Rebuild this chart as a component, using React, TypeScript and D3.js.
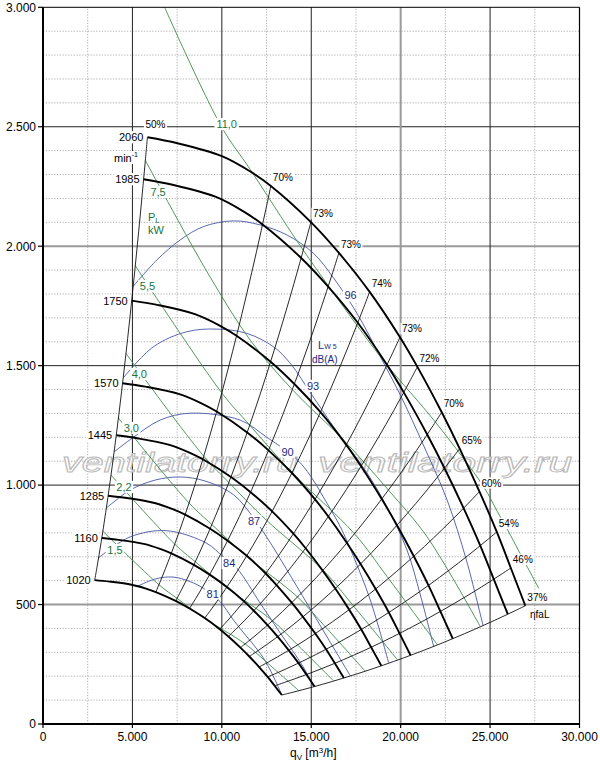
import * as d3 from 'd3'

// fan speeds, min-1
const speeds = [2060, 1985, 1750, 1570, 1445, 1285, 1160, 1020]

// top characteristic (2060 min-1), qV in m3/h and pressure in Pa
const curveQ = [5839, 7518, 10003, 11627, 12741, 14980, 16547, 18266, 19962, 20936, 22296, 23300, 24407, 25375, 26159, 26971]
const curveP = [2456, 2431, 2377, 2311, 2252, 2101, 1972, 1809, 1619, 1495, 1305, 1153, 973, 804, 653, 495]
const etaLabels = ['50%', '', '', '', '70%', '73%', '73%', '74%', '73%', '72%', '70%', '65%', '60%', '54%', '46%', '37%']

// shaft power lines PL, kW
const powerLevels = ['1,5', '2,2', '3,0', '4,0', '5,5', '7,5', '11,0']
const powerQ = [
  [3346, 6483, 7494, 9000, 11306, 12482, 14297],
  [3802, 7366, 8516, 10225, 12842, 14180, 16237],
  [4216, 8167, 9442, 11338, 14240, 15725, 18003],
  [4640, 8989, 10392, 12479, 15674, 17307, 19818],
  [5160, 9997, 11559, 13879, 17431, 19242, 22041],
  [5723, 7500, 9345, 11584, 14000, 16806, 19328, 21472, 24441],
  [6800, 9980, 11600, 14400, 17485, 19198, 21962, 24640, 25400, 26000, 26600, 27720],
]
const powerP = [
  [807, 583, 526, 444, 335, 260, 140],
  [1042, 753, 679, 573, 432, 335, 181],
  [1281, 925, 835, 705, 531, 412, 222],
  [1551, 1121, 1011, 854, 643, 499, 269],
  [1918, 1386, 1251, 1056, 795, 617, 333],
  [2359, 2115, 1871, 1607, 1395, 1189, 978, 784, 409],
  [3000, 2500, 2320, 2000, 1676, 1506, 1262, 993, 890, 810, 725, 568],
]
const powerLabelQ = [4026, 4530, 4938, 5385, 5844, 6433, 10272]
const powerLabelP = [728, 992, 1239, 1465, 1833, 2227, 2511]

// sound power lines LW5, dB(A)
const soundLevels = ['81', '84', '87', '90', '93', '96']
const soundQ = [
  [5244, 6268, 7276, 8228, 8972, 9906, 10651, 11401, 12145, 12705, 13353],
  [3084, 4869, 6923, 9162, 10074, 10841, 12145, 13265, 14552, 15128],
  [3543, 4869, 6269, 7668, 9067, 10651, 11800, 12700, 13600, 14800, 16000, 17182],
  [3974, 5054, 6548, 8227, 11026, 12520, 13672, 14300, 14944, 15879, 16623, 17367, 18302, 19326],
  [4477, 6173, 8043, 9722, 11401, 12889, 13824, 15039, 16248, 18117, 19237, 20356, 21101, 21846],
  [5021, 6364, 7668, 8972, 10651, 12145, 13640, 15128, 16248, 17558, 18862, 19981, 21268, 22595, 23675, 24610],
]
const soundP = [
  [575, 607, 615, 596, 568, 512, 435, 365, 296, 226, 122],
  [694, 783, 809, 756, 700, 652, 506, 381, 239, 156],
  [904, 979, 1021, 1034, 1017, 960, 860, 760, 650, 500, 350, 202],
  [1139, 1200, 1272, 1301, 1272, 1200, 1140, 1100, 1040, 924, 826, 700, 519, 257],
  [1448, 1579, 1642, 1653, 1635, 1579, 1510, 1377, 1244, 1051, 908, 728, 540, 324],
  [1830, 1942, 2026, 2082, 2106, 2089, 2047, 1970, 1867, 1719, 1537, 1377, 1168, 938, 686, 411],
]
const soundLabelQ = [9486, 10410, 11800, 13672, 15099, 17195]
const soundLabelP = [546, 674, 850, 1140, 1415, 1794]

const xTicks = [0, 5000, 10000, 15000, 20000, 25000, 30000]
const yTicks = [0, 500, 1000, 1500, 2000, 2500, 3000]

const font = '"Liberation Sans", Arial, Helvetica, sans-serif'
const GREEN_LINE = '#3d8a4c'
const GREEN_TEXT = '#16753a'
const BLUE_LINE = '#4656a6'
const BLUE_TEXT = '#1d2a80'

const x = d3.scaleLinear().domain([0, 30000]).range([43, 579.5])
const y = d3.scaleLinear().domain([0, 3000]).range([724, 7.3])

const fmt = (v: number) => d3.format(',')(v).replace(/,/g, '.')

const charW: Record<string, number> = { '%': 0.89, ',': 0.28, '.': 0.28, '-': 0.33, i: 0.22, m: 0.83, n: 0.56 }
const textWidth = (t: string, size: number) =>
  t.split('').reduce((s, c) => s + (charW[c] ?? 0.56), 0) * size

// label with a white box behind it; cy is the text centre line
function Tag({ cx, cy, text, size = 10, color = '#000', anchor = 'middle', pad = 1.5 }: any) {
  const w = textWidth(text, size)
  const x0 = anchor === 'middle' ? cx - w / 2 : anchor === 'end' ? cx - w : cx
  return (
    <g>
      <rect x={x0 - pad} y={cy - size * 0.42 - pad} width={w + 2 * pad} height={size * 0.84 + 2 * pad} fill="#fff" />
      <text x={cx} y={cy + size * 0.36} fontSize={size} fill={color} textAnchor={anchor}>
        {text}
      </text>
    </g>
  )
}

export default function App() {
  const line = d3.line<[number, number]>().curve(d3.curveCatmullRom.alpha(0.5))
  const top = speeds[0]
  const sMin = speeds[speeds.length - 1] / top

  // speed curves follow the fan laws from the top curve
  const speedPaths = speeds.map((n) => {
    const s = n / top
    return curveQ.map((q, i) => [x(q * s), y(curveP[i] * s * s)] as [number, number])
  })

  // efficiency lines are affinity parabolas through each marked point
  const etaIdx = etaLabels.map((l, i) => (l ? i : -1)).filter((i) => i >= 0)
  const etaPaths = etaIdx.map((i) =>
    d3.range(0, 25).map((k) => {
      const s = sMin + ((1 - sMin) * k) / 24
      return [x(curveQ[i] * s), y(curveP[i] * s * s)] as [number, number]
    })
  )

  const minorY = d3.range(100, 3000, 100).filter((v) => v % 500 !== 0)
  const minorX = d3.range(2500, 30000, 2500).filter((v) => v % 5000 !== 0)
  const grayX = [20000]
  const grayY = [500, 2000]

  return (
    <svg
      width={600}
      height={763}
      style={{ position: 'absolute', left: 0, top: 0, background: '#fff' }}
      fontFamily={font}
    >
      <rect width={600} height={763} fill="#fff" />

      {/* minor grid */}
      <g stroke="#8a8a8a" strokeWidth={0.7} strokeDasharray="1.2 1.6">
        {minorY.map((v) => (
          <line key={'my' + v} x1={x(0)} x2={x(30000)} y1={y(v)} y2={y(v)} />
        ))}
        {minorX.map((v) => (
          <line key={'mx' + v} x1={x(v)} x2={x(v)} y1={y(0)} y2={y(3000)} />
        ))}
      </g>

      {/* major grid */}
      <g>
        {yTicks.slice(1, -1).map((v) => (
          <line key={'gy' + v} x1={x(0)} x2={x(30000)} y1={y(v)} y2={y(v)}
            stroke={grayY.includes(v) ? '#9a9a9a' : '#222'} strokeWidth={grayY.includes(v) ? 2 : 1} />
        ))}
        {xTicks.slice(1, -1).map((v) => (
          <line key={'gx' + v} x1={x(v)} x2={x(v)} y1={y(0)} y2={y(3000)}
            stroke={grayX.includes(v) ? '#9a9a9a' : '#222'} strokeWidth={grayX.includes(v) ? 2 : 1} />
        ))}
      </g>

      {/* watermark */}
      <g fontStyle="italic" fontSize={27} fill="#fff" fillOpacity={0.75} stroke="#b8b8b8" strokeWidth={0.9}>
        <text x={62} y={471.5} textLength={236} lengthAdjust="spacingAndGlyphs">ventilatorry.ru</text>
        <text x={318} y={471.5} textLength={254} lengthAdjust="spacingAndGlyphs">ventilatorry.ru</text>
      </g>

      {/* sound power lines */}
      <g fill="none" stroke={BLUE_LINE} strokeWidth={0.9}>
        {soundLevels.map((l, i) => (
          <path key={'s' + l} d={line(soundQ[i].map((q, j) => [x(q), y(soundP[i][j])]))!} />
        ))}
      </g>

      {/* shaft power lines */}
      <g fill="none" stroke={GREEN_LINE} strokeWidth={0.9}>
        {powerLevels.map((l, i) => (
          <path key={'p' + l} d={line(powerQ[i].map((q, j) => [x(q), y(powerP[i][j])]))!} />
        ))}
      </g>

      {/* efficiency lines */}
      <g fill="none" stroke="#111" strokeWidth={0.9}>
        {etaPaths.map((pts, k) => (
          <path key={'e' + k} d={line(pts)!} />
        ))}
      </g>

      {/* speed curves */}
      <g fill="none" stroke="#000" strokeWidth={1.9}>
        {speedPaths.map((pts, k) => (
          <path key={'n' + speeds[k]} d={line(pts)!} />
        ))}
      </g>

      {/* frame and axes */}
      <line x1={x(0)} x2={x(30000)} y1={y(3000)} y2={y(3000)} stroke="#000" strokeWidth={1} />
      <line x1={x(30000)} x2={x(30000)} y1={y(0)} y2={y(3000)} stroke="#000" strokeWidth={1.2} />
      <line x1={x(0)} x2={x(0)} y1={y(0) + 1} y2={y(3000)} stroke="#000" strokeWidth={2} />
      <line x1={x(0) - 1} x2={x(30000)} y1={y(0)} y2={y(0)} stroke="#000" strokeWidth={2} />

      <g fontSize={12} fill="#000">
        {yTicks.map((v) => (
          <g key={'yt' + v}>
            <line x1={x(0) - 5} x2={x(0)} y1={y(v)} y2={y(v)} stroke="#000" strokeWidth={1.2} />
            <text x={36} y={y(v) + 4.3} textAnchor="end">{fmt(v)}</text>
          </g>
        ))}
        {xTicks.map((v) => (
          <g key={'xt' + v}>
            <line x1={x(v)} x2={x(v)} y1={y(0)} y2={y(0) + 4} stroke="#000" strokeWidth={1.2} />
            <text x={x(v)} y={741} textAnchor="middle">{fmt(v)}</text>
          </g>
        ))}
        <text x={290} y={757}>
          q<tspan fontSize={8} dy={3}>V</tspan>
          <tspan dy={-3}> [m</tspan>
          <tspan fontSize={8} dy={-4}>3</tspan>
          <tspan dy={4}>/h]</tspan>
        </text>
      </g>

      {/* sound labels */}
      {soundLevels.map((l, i) => (
        <Tag key={'sl' + l} cx={x(soundLabelQ[i])} cy={y(soundLabelP[i])} text={l} size={11} color={BLUE_TEXT} />
      ))}
      <rect x={315} y={339} width={24} height={25} fill="#fff" />
      <text x={318} y={349} fontSize={11} fill={BLUE_TEXT}>
        L<tspan fontSize={7}>W 5</tspan>
      </text>
      <text x={312} y={362.5} fontSize={10} fill={BLUE_TEXT}>dB(A)</text>

      {/* power labels */}
      {powerLevels.map((l, i) => (
        <Tag key={'pl' + l} cx={x(powerLabelQ[i])} cy={y(powerLabelP[i])} text={l} size={11} color={GREEN_TEXT} />
      ))}
      <text x={148} y={221} fontSize={11} fill={GREEN_TEXT}>
        P<tspan fontSize={8} dy={2}>L</tspan>
      </text>
      <text x={148} y={233.5} fontSize={11} fill={GREEN_TEXT}>kW</text>

      {/* speed labels */}
      {speeds.map((n) => {
        const s = n / top
        return (
          <Tag key={'sp' + n} cx={x(curveQ[0] * s) - 4} cy={y(curveP[0] * s * s)} text={String(n)} size={11} anchor="end" />
        )
      })}
      <rect x={113} y={151} width={26} height={13} fill="#fff" />
      <text x={114} y={162} fontSize={11}>
        min<tspan fontSize={7} dy={-5}>-1</tspan>
      </text>

      {/* efficiency labels */}
      {etaIdx.map((i) => {
        const px = x(curveQ[i])
        const py = y(curveP[i])
        return i === 0 ? (
          <Tag key={'el' + i} cx={px - 2} cy={py - 12.5} text={etaLabels[i]} size={10} anchor="start" />
        ) : (
          <Tag key={'el' + i} cx={px + 2} cy={py - 8.6} text={etaLabels[i]} size={10} anchor="start" />
        )
      })}
      <text x={530} y={618} fontSize={10}>ηfaL</text>
    </svg>
  )
}
